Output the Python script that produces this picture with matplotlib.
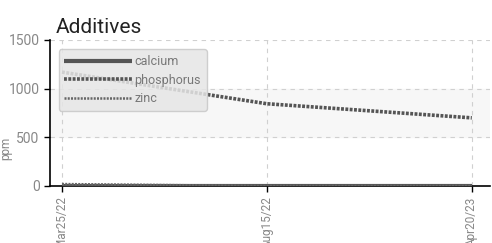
import matplotlib
matplotlib.use('Agg')
import matplotlib.pyplot as plt

# Data
dates = ['Mar25/22', 'Aug15/22', 'Apr20/23']
calcium = [0, 0, 0]
phosphorus = [1170, 845, 700]
zinc = [20, 0, 0]
y_ticks = [0, 500, 1000, 1500]

plt.rcParams['font.family'] = ['Roboto', 'DejaVu Sans']

fig = plt.figure(figsize=(4.92, 2.43), dpi=100)
ax = fig.add_axes([0.1016, 0.2346, 0.894, 0.6008])

x = list(range(len(dates)))

# Shaded band and grid
ax.axhspan(500, 1000, color='#f7f7f7', zorder=0)
ax.grid(True, linestyle=(0, (4, 4)), color='#d0d0d0', linewidth=0.8)
ax.set_axisbelow(True)

ax.plot(x, calcium, color='#555555', linewidth=3, solid_capstyle='butt', label='calcium', zorder=3)
ax.plot(x, phosphorus, color='#555555', linewidth=2.6, linestyle=(0, (0.8, 0.4)), label='phosphorus', zorder=3)
ax.plot(x, zinc, color='#666666', linewidth=1.8, linestyle=(0, (0.8, 0.5)), label='zinc', zorder=3)

ax.set_xlim(-0.0585, 2.088)
ax.set_ylim(0, 1500)
ax.set_xticks(x)
ax.set_xticklabels(dates, rotation=90, va='top', ha='center')
ax.set_yticks(y_ticks)

ax.tick_params(axis='both', colors='#888888', labelsize=10, length=4, width=1)
ax.tick_params(axis='x', labelsize=8.5)
ax.tick_params(axis='both', color='black')
for side in ['top', 'right']:
  ax.spines[side].set_visible(False)
for side in ['left', 'bottom']:
  ax.spines[side].set_color('black')
  ax.spines[side].set_linewidth(1.2)

ax.set_ylabel('ppm', color='#888888', fontsize=8.5)
ax.yaxis.set_label_coords(-0.085, 0.26)

ax.set_title('Additives', loc='left', fontsize=15, color='#222222', x=0.012, pad=5)

# Legend
leg = ax.legend(loc='upper left', bbox_to_anchor=(0.02, 0.935), fontsize=9, labelcolor='#777777',
                frameon=True, fancybox=True, handlelength=5.4, handletextpad=0.2,
                labelspacing=0.45, borderpad=0.45, borderaxespad=0)
leg.get_frame().set_facecolor('#e6e6e6')
leg.get_frame().set_edgecolor('#c8c8c8')
leg.get_frame().set_alpha(0.85)

fig.savefig('out.png', dpi=100)
